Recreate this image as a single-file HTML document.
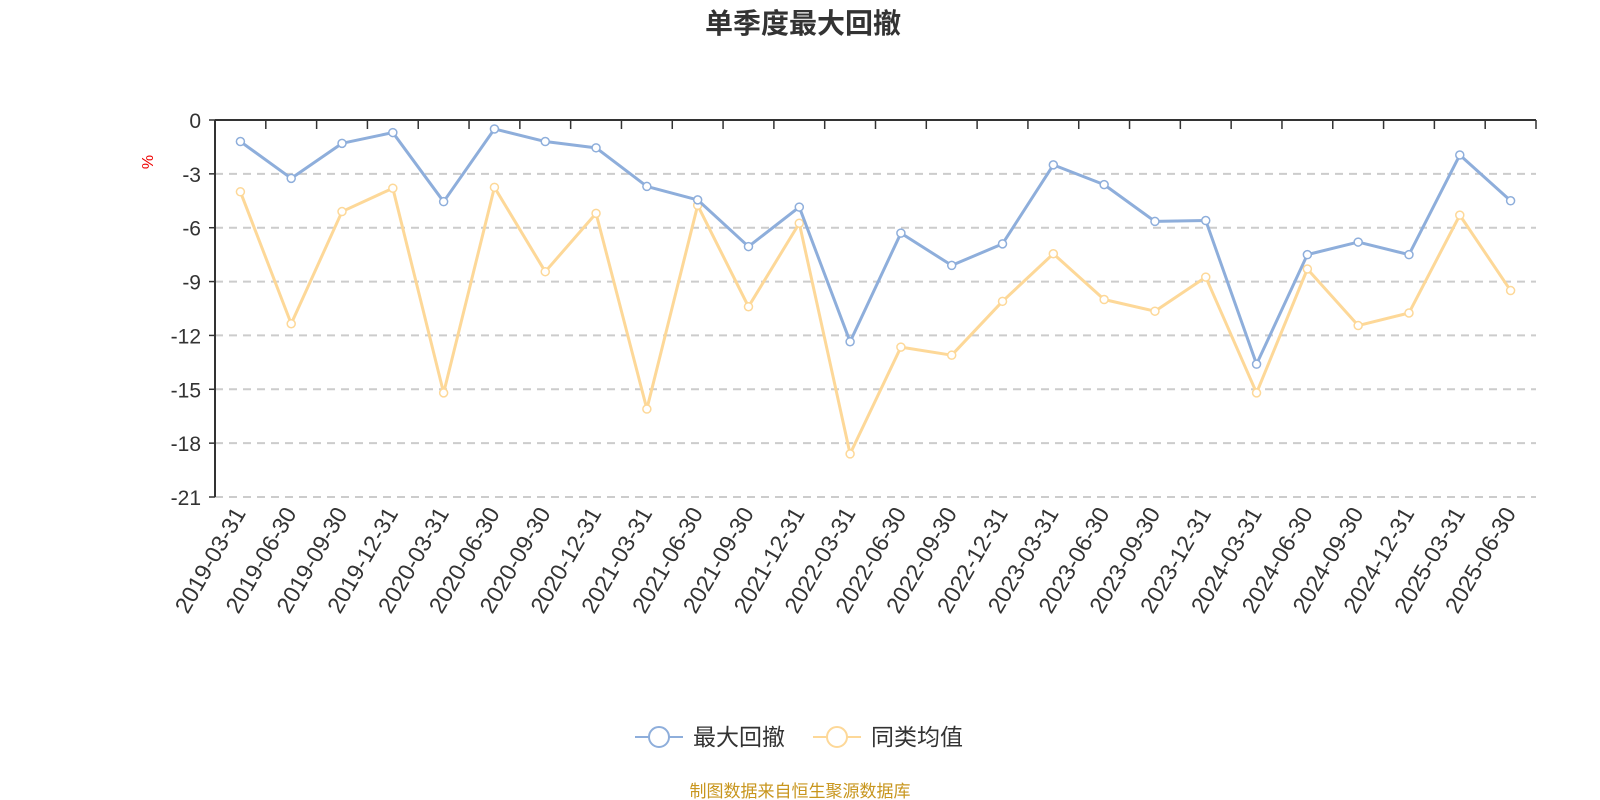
<!DOCTYPE html>
<html><head><meta charset="utf-8"><style>
body{margin:0;background:#fff;}
svg{display:block;font-family:"Liberation Sans","Noto Sans CJK SC",sans-serif;}
</style></head><body>
<svg id="chart" width="1600" height="800">
<text x="803" y="33" text-anchor="middle" font-size="28" font-weight="bold" fill="#333">单季度最大回撤</text>
<text x="153" y="162" font-size="16" fill="#e00" transform="rotate(-90 153 162)" text-anchor="middle">%</text>
<g id="grid"></g><g id="axes"></g><g id="series"></g>
<g>
<g>
<line x1="635" y1="737" x2="683" y2="737" stroke="#8eaedb" stroke-width="2"/><circle cx="659" cy="737" r="10" fill="#fff" stroke="#8eaedb" stroke-width="2"/>
<text x="693" y="745" font-size="23" fill="#333">最大回撤</text></g>
<g>
<line x1="813" y1="737" x2="861" y2="737" stroke="#fdd898" stroke-width="2"/><circle cx="837" cy="737" r="10" fill="#fff" stroke="#fdd898" stroke-width="2"/>
<text x="871" y="745" font-size="23" fill="#333">同类均值</text></g>
</g>
<text x="800" y="797" text-anchor="middle" font-size="17" fill="#c8961e">制图数据来自恒生聚源数据库</text>
</svg>
<script>
const categories=["2019-03-31","2019-06-30","2019-09-30","2019-12-31","2020-03-31","2020-06-30","2020-09-30","2020-12-31","2021-03-31","2021-06-30","2021-09-30","2021-12-31","2022-03-31","2022-06-30","2022-09-30","2022-12-31","2023-03-31","2023-06-30","2023-09-30","2023-12-31","2024-03-31","2024-06-30","2024-09-30","2024-12-31","2025-03-31","2025-06-30"];
const maxDrawdown=[-1.2,-3.25,-1.3,-0.7,-4.55,-0.5,-1.2,-1.55,-3.7,-4.45,-7.05,-4.85,-12.35,-6.3,-8.1,-6.9,-2.5,-3.6,-5.65,-5.6,-13.6,-7.5,-6.8,-7.5,-1.95,-4.5];
const peerAverage=[-4.0,-11.35,-5.1,-3.8,-15.2,-3.75,-8.45,-5.2,-16.1,-4.75,-10.4,-5.75,-18.6,-12.65,-13.1,-10.1,-7.45,-10.0,-10.65,-8.75,-15.2,-8.3,-11.45,-10.75,-5.3,-9.5];
const yTicks=[0,-3,-6,-9,-12,-15,-18,-21];
const NS="http://www.w3.org/2000/svg";
const L=215,R=1536,T=120,B=497,yMin=-21,yMax=0;
const band=(R-L)/categories.length;
const x=i=>L+band*(i+0.5);
const y=v=>T+(yMax-v)/(yMax-yMin)*(B-T);
function mk(tag,attrs,parent){const e=document.createElementNS(NS,tag);for(const k in attrs)e.setAttribute(k,attrs[k]);parent.appendChild(e);return e;}
const grid=document.getElementById('grid'),axes=document.getElementById('axes'),series=document.getElementById('series');
yTicks.forEach(v=>{
  if(v!==0){const g=mk('line',{x1:L,x2:R,y1:y(v),y2:y(v),stroke:'#ccc','stroke-width':2,'stroke-dasharray':'8,6'},grid);
  
  }
  const t=mk('text',{x:L-14,y:y(v)+8,'text-anchor':'end','font-size':21,fill:'#333'},axes);t.textContent=v;
  
  
  mk('line',{x1:L-6,x2:L,y1:y(v),y2:y(v),stroke:'#333','stroke-width':1.5},axes);
});
const ya=mk('line',{x1:L,x2:L,y1:T,y2:B,stroke:'#333','stroke-width':2},axes);


const xa=mk('line',{x1:L,x2:R,y1:T,y2:T,stroke:'#333','stroke-width':2},axes);


for(let i=0;i<=categories.length;i++){mk('line',{x1:L+band*i,x2:L+band*i,y1:T,y2:T+9,stroke:'#333','stroke-width':1.5},axes);}
categories.forEach((c,i)=>{
  const tx=x(i)+6,ty=B+16;
  const t=mk('text',{x:tx,y:ty,'text-anchor':'end','font-size':23,fill:'#333',transform:`rotate(-60 ${tx} ${ty})`},axes);
  t.textContent=c;
  
  
});
function draw(data,color,name){
  const p=mk('polyline',{points:data.map((v,i)=>x(i)+','+y(v)).join(' '),fill:'none',stroke:color,'stroke-width':3,'stroke-linejoin':'round'},series);
  
  
  data.forEach((v,i)=>{const c=mk('circle',{cx:x(i),cy:y(v),r:4,fill:'#fff',stroke:color,'stroke-width':1.5},series);
  
  });
}
draw(peerAverage,'#fdd898','peer-average');
draw(maxDrawdown,'#8eaedb','max-drawdown');
</script>
</body></html>
